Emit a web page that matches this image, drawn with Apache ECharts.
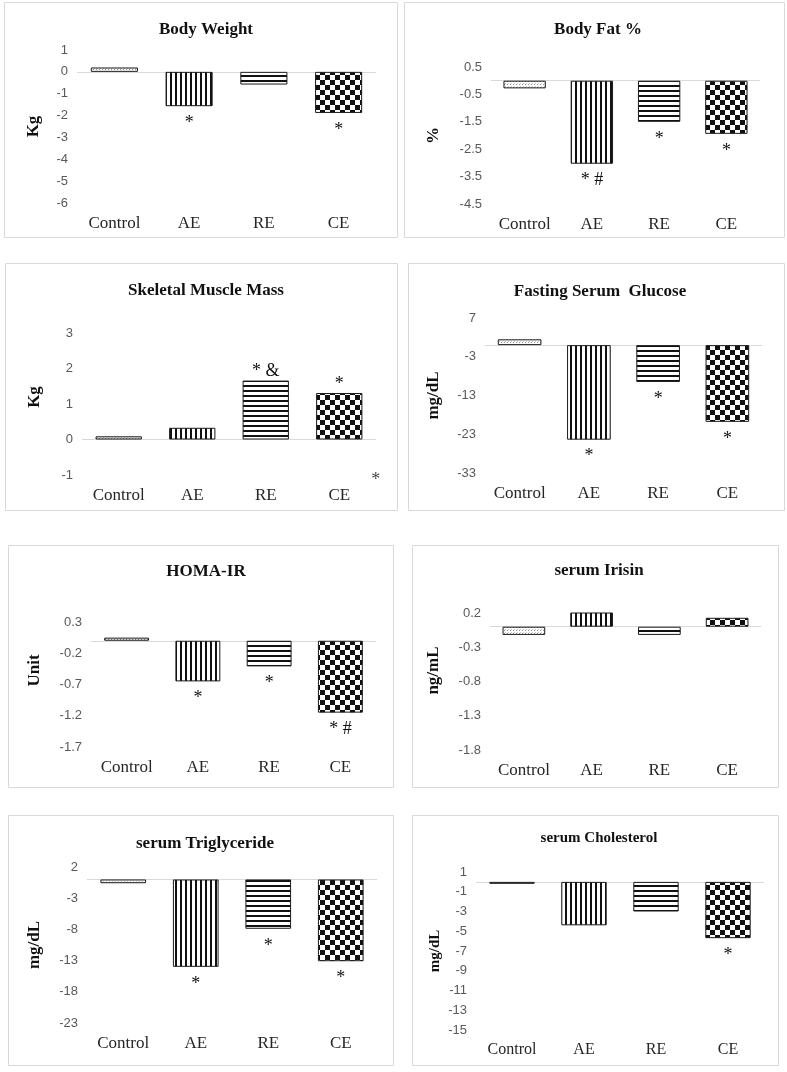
<!DOCTYPE html>
<html>
<head>
<meta charset="utf-8">
<script src="https://cdn.jsdelivr.net/npm/echarts@6/dist/echarts.min.js"></script>
<style>
html,body{margin:0;padding:0;background:#fff;}
#chart{width:787px;height:1072px;}
</style>
</head>
<body>
<div id="chart"></div>
<script>
// ---------- DATA ----------
const categories = ['Control', 'AE', 'RE', 'CE'];

const bodyWeight   = [0.2, -1.57, -0.58, -1.88];
const bodyFat      = [-0.28, -3.03, -1.5, -1.94];
const muscleMass   = [0.09, 0.33, 1.66, 1.31];
const glucose      = [1.5, -24.4, -9.5, -19.8];
const homaIR       = [0.05, -0.65, -0.41, -1.15];
const irisin       = [-0.12, 0.23, -0.12, 0.13];
const triglyceride = [-0.6, -14.0, -7.9, -13.1];
const cholesterol  = [-0.2, -4.4, -3.0, -5.7];

const bodyWeightSig   = ['', '*', '', '*'];
const bodyFatSig      = ['', '* #', '*', '*'];
const muscleMassSig   = ['', '', '* &', '*'];
const glucoseSig      = ['', '*', '*', '*'];
const homaIRSig       = ['', '*', '*', '* #'];
const irisinSig       = ['', '', '', ''];
const triglycerideSig = ['', '*', '*', '*'];
const cholesterolSig  = ['', '', '', '*'];

// stray asterisk drawn right of the CE bar in the Skeletal Muscle Mass panel
const muscleStrayMark = ['CE', -1];

const titles = ['Body Weight', 'Body Fat %', 'Skeletal Muscle Mass', 'Fasting Serum  Glucose',
                'HOMA-IR', 'serum Irisin', 'serum Triglyceride', 'serum Cholesterol'];
const yNames = ['Kg', '%', 'Kg', 'mg/dL', 'Unit', 'ng/mL', 'mg/dL', 'mg/dL'];
const yMins = [-6, -4.5, -1, -33, -1.7, -1.8, -23, -15];
const yMaxs = [1, 0.5, 3, 7, 0.3, 0.2, 2, 1];
const yIntervals = [1, 1, 1, 10, 0.5, 0.5, 5, 2];

const seriesValues = [bodyWeight, bodyFat, muscleMass, glucose, homaIR, irisin, triglyceride, cholesterol];
const seriesSig = [bodyWeightSig, bodyFatSig, muscleMassSig, glucoseSig, homaIRSig, irisinSig, triglycerideSig, cholesterolSig];

// ---------- LAYOUT ----------
const layout = [
  {box:[4,2,393,235],   grid:{left:77, top:50, width:299, height:153},  title:[201,16], nameGap:35, namePad:0,  catFont:17, titleFont:17, nameFont:17},
  {box:[404,2,380,235], grid:{left:491, top:67, width:269, height:137}, title:[593,16], nameGap:49, namePad:0,  catFont:17, titleFont:17, nameFont:17},
  {box:[5,263,392,247], grid:{left:82, top:333, width:294, height:142}, title:[201,277], nameGap:39, namePad:14, catFont:17, titleFont:17, nameFont:17},
  {box:[408,263,376,247], grid:{left:485, top:318, width:277, height:155}, title:[595,278], nameGap:43, namePad:0, catFont:17, titleFont:17, nameFont:17},
  {box:[8,545,385,242], grid:{left:91, top:622, width:285, height:125}, title:[201,558], nameGap:48, namePad:28, catFont:17, titleFont:17, nameFont:17},
  {box:[412,545,366,242], grid:{left:490, top:613, width:271, height:137}, title:[594,557], nameGap:48, namePad:22, catFont:17, titleFont:17, nameFont:17},
  {box:[8,815,385,250], grid:{left:87, top:867, width:290, height:156}, title:[200,830], nameGap:44, namePad:0, catFont:17, titleFont:17, nameFont:17},
  {box:[412,815,366,250], grid:{left:476, top:872, width:288, height:158}, title:[594,826], nameGap:33, namePad:0, catFont:16, titleFont:15, nameFont:15}
];

// ---------- PATTERNS ----------
function makePattern(kind){
  const c = document.createElement('canvas');
  const ctx = c.getContext('2d');
  if (kind === 'dots'){
    c.width = 3; c.height = 3;
    ctx.fillStyle = '#fff'; ctx.fillRect(0,0,3,3);
    ctx.fillStyle = '#8c8c8c'; ctx.fillRect(0,0,1,1);
    ctx.fillStyle = '#c8c8c8'; ctx.fillRect(1,2,1,1);
  } else if (kind === 'vert'){
    c.width = 5; c.height = 5;
    ctx.fillStyle = '#fff'; ctx.fillRect(0,0,5,5);
    ctx.fillStyle = '#111'; ctx.fillRect(0,0,2,5);
  } else if (kind === 'horiz'){
    c.width = 5; c.height = 5;
    ctx.fillStyle = '#fff'; ctx.fillRect(0,0,5,5);
    ctx.fillStyle = '#111'; ctx.fillRect(0,0,5,2);
  } else {
    c.width = 10; c.height = 10;
    ctx.fillStyle = '#fff'; ctx.fillRect(0,0,10,10);
    ctx.fillStyle = '#111'; ctx.fillRect(0,0,5,5); ctx.fillRect(5,5,5,5);
  }
  return {image: c, repeat: 'repeat'};
}
const patterns = [makePattern('dots'), makePattern('vert'), makePattern('horiz'), makePattern('check')];

// ---------- OPTION ----------
const option = {
  animation: false,
  backgroundColor: '#fff',
  title: [], grid: [], xAxis: [], yAxis: [], series: [],
  graphic: []
};

const fmt = v => String(Math.round(v * 10) / 10);

layout.forEach((L, i) => {
  option.graphic.push({
    type: 'rect', shape: {x: L.box[0] + 0.5, y: L.box[1] + 0.5, width: L.box[2], height: L.box[3]},
    style: {fill: 'none', stroke: '#d9d9d9', lineWidth: 1}, z: 0, silent: true
  });
  option.title.push({
    text: titles[i], left: L.title[0], top: L.title[1], textAlign: 'center',
    textStyle: {fontFamily: 'Liberation Serif', fontWeight: 'bold', fontSize: L.titleFont, color: '#111'}
  });
  option.grid.push(Object.assign({containLabel: false}, L.grid));
  option.xAxis.push({
    type: 'category', gridIndex: i, data: categories,
    axisLine: {show: false}, axisTick: {show: false}, splitLine: {show: false},
    axisLabel: {interval: 0, hideOverlap: false, fontFamily: 'Liberation Serif', fontSize: L.catFont, color: '#262626', margin: 12}
  });
  option.yAxis.push({
    type: 'value', gridIndex: i, min: yMins[i], max: yMaxs[i], interval: yIntervals[i],
    axisLine: {show: false}, axisTick: {show: false}, splitLine: {show: false},
    axisLabel: {fontFamily: 'Liberation Sans', fontSize: 13, color: '#595959', margin: 9, formatter: fmt},
    name: yNames[i], nameLocation: 'middle', nameGap: L.nameGap,
    nameTextStyle: {fontFamily: 'Liberation Serif', fontWeight: 'bold', fontSize: L.nameFont, color: '#111',
                    padding: [0, 0, 0, L.namePad]}
  });
  const vals = seriesValues[i];
  const sig = seriesSig[i];
  option.series.push({
    type: 'bar', xAxisIndex: i, yAxisIndex: i, barCategoryGap: '37%',
    data: vals.map((v, j) => ({
      value: v,
      itemStyle: {color: patterns[j], borderColor: '#1a1a1a', borderWidth: 1},
      label: {
        show: sig[j] !== '', formatter: sig[j],
        position: v < 0 ? 'bottom' : 'top', distance: v < 0 ? 8 : 0,
        fontFamily: 'Liberation Serif', fontSize: 18, color: '#111'
      }
    })),
    markLine: {
      silent: true, symbol: ['none', 'none'], label: {show: false},
      lineStyle: {color: '#d9d9d9', width: 1, type: 'solid'},
      data: [{yAxis: 0}], z: 1
    },
    z: 2
  });
});

// stray asterisk as a label-only scatter point
option.series.push({
  type: 'scatter', xAxisIndex: 2, yAxisIndex: 2, silent: true, clip: false,
  symbol: 'circle', symbolSize: 1, itemStyle: {color: 'rgba(0,0,0,0)'},
  data: [muscleStrayMark],
  label: {show: true, position: [37, 6], align: 'center', verticalAlign: 'middle',
          formatter: '*', fontFamily: 'Liberation Serif', fontSize: 18, color: '#111'},
  labelLayout: {hideOverlap: false},
  z: 5
});

const chart = echarts.init(document.getElementById('chart'), null, {renderer: 'canvas'});
chart.setOption(option);
</script>
</body>
</html>
